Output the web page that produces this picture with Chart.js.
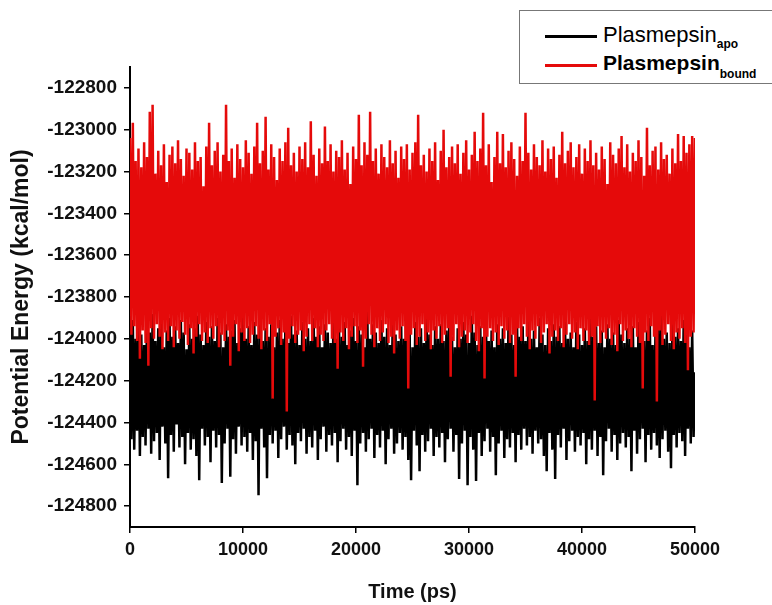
<!DOCTYPE html>
<html>
<head>
<meta charset="utf-8">
<script src="https://cdn.jsdelivr.net/npm/chart.js@4.4.0/dist/chart.umd.min.js"></script>
<style>
    html, body { margin: 0; padding: 0; background: #fff; overflow: hidden; }
    #wrap { position: relative; width: 772px; height: 605px; }
    #legend {
        position: absolute; left: 519px; top: 10px; width: 270px; height: 72px;
        border: 1px solid #777; background: #fff;
        font-family: "Liberation Sans", Arial, sans-serif; color: #000;
    }
    .swatch { position: absolute; left: 25px; width: 52px; height: 3px; }
    .row { position: absolute; left: 83px; white-space: nowrap; line-height: 1; }
    .row sub { font-size: 12px; font-weight: bold; line-height: 0; }
</style>
</head>
<body>
<div id="wrap">
    <canvas id="energyChart" width="772" height="605"></canvas>
    <div id="legend">
        <div class="swatch" style="top:24px; background:#000"></div>
        <div class="row" style="top:13px; font-size:22px">Plasmepsin<sub style="vertical-align:-6px">apo</sub></div>
        <div class="swatch" style="top:53px; background:#e50a0a"></div>
        <div class="row" style="top:41px; font-size:21px; font-weight:bold">Plasmepsin<sub style="vertical-align:-8px">bound</sub></div>
    </div>
</div>
<script>
// trajectory sampling, ps between points
const timeStep = 125;

const yTicks = [-122800, -123000, -123200, -123400, -123600, -123800, -124000, -124200, -124400, -124600, -124800];
const xTicks = [0, 10000, 20000, 30000, 40000, 50000];

// Plasmepsin bound (red), kcal/mol
const boundEnergy = [
    -123040,-123980,-122967,-123940,-123150,-124010,-123090,-124095,-123180,-123960,
    -123060,-124020,-123130,-124129,-122914,-123950,-122881,-124000,-123210,-123930,
    -123100,-123990,-123170,-124050,-123070,-123970,-123250,-124010,-123120,-123940,
    -123080,-124040,-123160,-123960,-123050,-124000,-123140,-123920,-123220,-123980,
    -123090,-124030,-123110,-123950,-123190,-124070,-123060,-123990,-123150,-123930,
    -123130,-124010,-123270,-123970,-123080,-124020,-122967,-123950,-123170,-124000,
    -123100,-123940,-123060,-124040,-123200,-123980,-123120,-124010,-122881,-123960,
    -123150,-124129,-123090,-123990,-123230,-123930,-123070,-124060,-123140,-123970,
    -123180,-124010,-123050,-123950,-123110,-124020,-123210,-123980,-123080,-123940,
    -122967,-124000,-123160,-124050,-123100,-123960,-122938,-124010,-123190,-123930,
    -123070,-124286,-123130,-123990,-123240,-123950,-123090,-124030,-123150,-123970,
    -123060,-124348,-122990,-124000,-123170,-123940,-123110,-124020,-123200,-123980,
    -123080,-123960,-123140,-124060,-123060,-123990,-123180,-123930,-122960,-124010,
    -123120,-123950,-123220,-124040,-123090,-123980,-123160,-124010,-122985,-123960,
    -123150,-123930,-123070,-124000,-123200,-124020,-123100,-124143,-123130,-123970,
    -123050,-124010,-123190,-123950,-123110,-124050,-123260,-123990,-123080,-123940,
    -123140,-124020,-122929,-123960,-123170,-124133,-123060,-124000,-123120,-123930,
    -122914,-123980,-123150,-124040,-123090,-123950,-123210,-124010,-123070,-123970,
    -123130,-123930,-123180,-124020,-123050,-123990,-123160,-124070,-123100,-123960,
    -123230,-124000,-123080,-123940,-123140,-124010,-123070,-124238,-123190,-123980,
    -123110,-123950,-123060,-124030,-122929,-123990,-123170,-123930,-123120,-124010,
    -123200,-123970,-123090,-124050,-123150,-123960,-123060,-124000,-123240,-123940,
    -123100,-124020,-123000,-123980,-123180,-123950,-123130,-124181,-123080,-124010,
    -123160,-123930,-123070,-124040,-123210,-123990,-123110,-123960,-123050,-124020,
    -123190,-123970,-123120,-123930,-123010,-124010,-123150,-124060,-123090,-123950,
    -122919,-124190,-123170,-123990,-123070,-123950,-123250,-124010,-123130,-123970,
    -123010,-124030,-123160,-123940,-123020,-124000,-123180,-123960,-123100,-124020,
    -123060,-123980,-123140,-124181,-123220,-123950,-123080,-124010,-123150,-123930,
    -122919,-123990,-123110,-124050,-123190,-123960,-123070,-124000,-123130,-123940,
    -123170,-124020,-123050,-123970,-123200,-123930,-123090,-124070,-123140,-123990,
    -123080,-123960,-123230,-124010,-123120,-123950,-123010,-124040,-123160,-123980,
    -123100,-123930,-123060,-124000,-123180,-123970,-123130,-124050,-123070,-123950,
    -123210,-124010,-123090,-123960,-123150,-124030,-123050,-123990,-123170,-124295,
    -123110,-123940,-123190,-124020,-123080,-123970,-123140,-124000,-123260,-123950,
    -123060,-124030,-123120,-123980,-123160,-124060,-123090,-123930,-123030,-124010,
    -123180,-123960,-123070,-124000,-123200,-124040,-123110,-123950,-123150,-123990,
    -123050,-124020,-123130,-124238,-123220,-123970,-122990,-124010,-123170,-123940,
    -123100,-123990,-123080,-124300,-123190,-123960,-123060,-124030,-123140,-123980,
    -123120,-123930,-123210,-124010,-123090,-124050,-123160,-123970,-123020,-124000,
    -123150,-123950,-123030,-124020,-123110,-124150,-123070,-123990,-123030,-123970,
    -123040
];

// Plasmepsin apo (black), kcal/mol
const apoEnergy = [
    -123940,-124480,-123910,-124530,-124000,-124440,-123930,-124560,-123980,-124470,
    -124030,-124510,-123900,-124430,-123970,-124550,-123881,-124490,-124010,-124450,
    -123950,-124580,-123920,-124420,-124040,-124500,-123960,-124667,-123900,-124460,
    -123990,-124540,-123940,-124410,-124020,-124520,-123910,-124470,-123970,-124600,
    -124050,-124450,-123930,-124530,-124000,-124480,-123950,-124560,-123890,-124676,
    -123980,-124430,-124030,-124510,-123920,-124470,-123990,-124590,-123940,-124440,
    -124010,-124520,-123900,-124460,-123970,-124690,-124040,-124500,-123930,-124430,
    -123990,-124660,-123960,-124480,-123910,-124550,-124020,-124420,-123950,-124510,
    -123867,-124470,-124000,-124540,-123940,-124450,-124030,-124580,-123920,-124490,
    -123980,-124748,-123900,-124430,-124010,-124520,-123950,-124667,-123990,-124460,
    -123930,-124500,-124040,-124440,-123970,-124570,-123910,-124480,-124000,-124420,
    -123940,-124530,-124020,-124460,-123890,-124510,-123980,-124600,-123960,-124450,
    -124030,-124490,-123920,-124430,-124000,-124550,-123950,-124470,-124010,-124520,
    -123900,-124440,-123990,-124580,-123940,-124480,-124040,-124420,-123930,-124540,
    -123970,-124460,-124020,-124510,-123910,-124450,-124000,-124590,-123950,-124490,
    -123990,-124430,-123920,-124530,-124030,-124470,-123960,-124560,-123900,-124440,
    -124010,-124700,-123940,-124500,-123980,-124450,-124040,-124540,-123857,-124480,
    -124000,-124430,-123930,-124570,-123970,-124460,-124020,-124520,-123910,-124440,
    -123990,-124600,-123950,-124480,-124030,-124430,-123900,-124550,-123980,-124500,
    -124010,-124450,-123940,-124530,-124000,-124470,-123870,-124580,-123970,-124676,
    -124040,-124440,-123920,-124510,-123990,-124633,-123950,-124460,-124020,-124540,
    -123900,-124490,-123980,-124430,-124030,-124560,-123940,-124470,-124000,-124520,
    -123930,-124450,-124010,-124590,-123960,-124480,-123910,-124430,-123990,-124540,
    -124040,-124460,-123950,-124670,-124000,-124500,-123920,-124440,-123980,-124700,
    -124020,-124470,-123890,-124530,-123970,-124680,-124030,-124450,-123940,-124560,
    -123990,-124490,-123900,-124430,-124010,-124540,-123960,-124470,-124040,-124652,
    -123930,-124500,-124000,-124440,-123950,-124570,-124020,-124480,-123895,-124520,
    -123980,-124450,-124030,-124590,-123910,-124460,-123990,-124530,-123940,-124430,
    -124010,-124510,-123920,-124470,-124000,-124550,-123960,-124440,-124040,-124500,
    -123900,-124480,-123980,-124560,-124030,-124633,-123950,-124450,-124010,-124530,
    -123930,-124670,-123990,-124460,-123940,-124520,-124020,-124430,-123910,-124580,
    -124000,-124490,-123970,-124440,-124040,-124540,-123920,-124470,-123980,-124510,
    -124030,-124450,-123950,-124600,-124010,-124480,-123900,-124530,-123990,-124440,
    -123940,-124560,-124020,-124470,-123960,-124652,-124040,-124490,-123930,-124430,
    -124000,-124540,-123970,-124460,-124030,-124580,-123910,-124500,-123980,-124450,
    -124020,-124520,-123950,-124470,-124000,-124633,-123940,-124440,-124040,-124550,
    -123920,-124480,-123990,-124430,-124010,-124590,-123960,-124460,-123900,-124530,
    -124030,-124450,-123980,-124510,-123940,-124570,-123870,-124480,-124000,-124440,
    -123970,-124540,-124020,-124619,-123930,-124460,-123990,-124520,-123950,-124450,
    -124010,-124490,-123910,-124560,-123980,-124430,-124040,-124500,-123960,-124470,
    -124160
];

const times = boundEnergy.map((_, i) => i * timeStep);

Chart.defaults.font.family = "'Liberation Sans', Arial, sans-serif";
Chart.defaults.color = '#111';

const ctx = document.getElementById('energyChart').getContext('2d');

new Chart(ctx, {
    type: 'line',
    data: {
        labels: times,
        datasets: [
            {
                label: 'Plasmepsin apo',
                data: apoEnergy,
                borderColor: '#000',
                borderWidth: 2.5,
                pointRadius: 0,
                tension: 0,
                fill: false,
                order: 2
            },
            {
                label: 'Plasmepsin bound',
                data: boundEnergy,
                borderColor: '#e50a0a',
                borderWidth: 2.5,
                pointRadius: 0,
                tension: 0,
                fill: false,
                order: 1
            }
        ]
    },
    options: {
        responsive: false,
        animation: false,
        devicePixelRatio: 1,
        layout: { padding: { top: 67, right: 77, left: 0, bottom: 0 } },
        plugins: {
            legend: { display: false },
            tooltip: { enabled: false }
        },
        scales: {
            x: {
                type: 'linear',
                min: 0,
                max: 50000,
                afterFit: s => { s.height = 78; },
                afterBuildTicks: s => { s.ticks = xTicks.map(v => ({ value: v })); },
                ticks: {
                    padding: 6,
                    maxRotation: 0,
                    color: '#111',
                    font: { size: 18, weight: 'bold' },
                    callback: v => String(v)
                },
                grid: { drawOnChartArea: false, drawTicks: true, tickLength: 6, color: '#000', lineWidth: 1.5 },
                border: { display: true, color: '#000', width: 2 },
                title: {
                    display: true,
                    text: 'Time (ps)',
                    color: '#111',
                    font: { size: 20, weight: 'bold' },
                    padding: { top: 0, bottom: 1 }
                }
            },
            y: {
                min: -124900,
                max: -122700,
                afterFit: s => { s.width = 130; },
                afterBuildTicks: s => { s.ticks = yTicks.map(v => ({ value: v })); },
                ticks: {
                    padding: 7,
                    color: '#111',
                    font: { size: 19, weight: 'bold' },
                    callback: v => String(v)
                },
                grid: { drawOnChartArea: false, drawTicks: true, tickLength: 6, color: '#000', lineWidth: 1.5 },
                border: { display: true, color: '#000', width: 2 },
                title: {
                    display: true,
                    text: 'Potential Energy (kcal/mol)',
                    color: '#111',
                    font: { size: 23, weight: 'bold' },
                    padding: { top: 8, bottom: 0 }
                }
            }
        }
    }
});
</script>
</body>
</html>
